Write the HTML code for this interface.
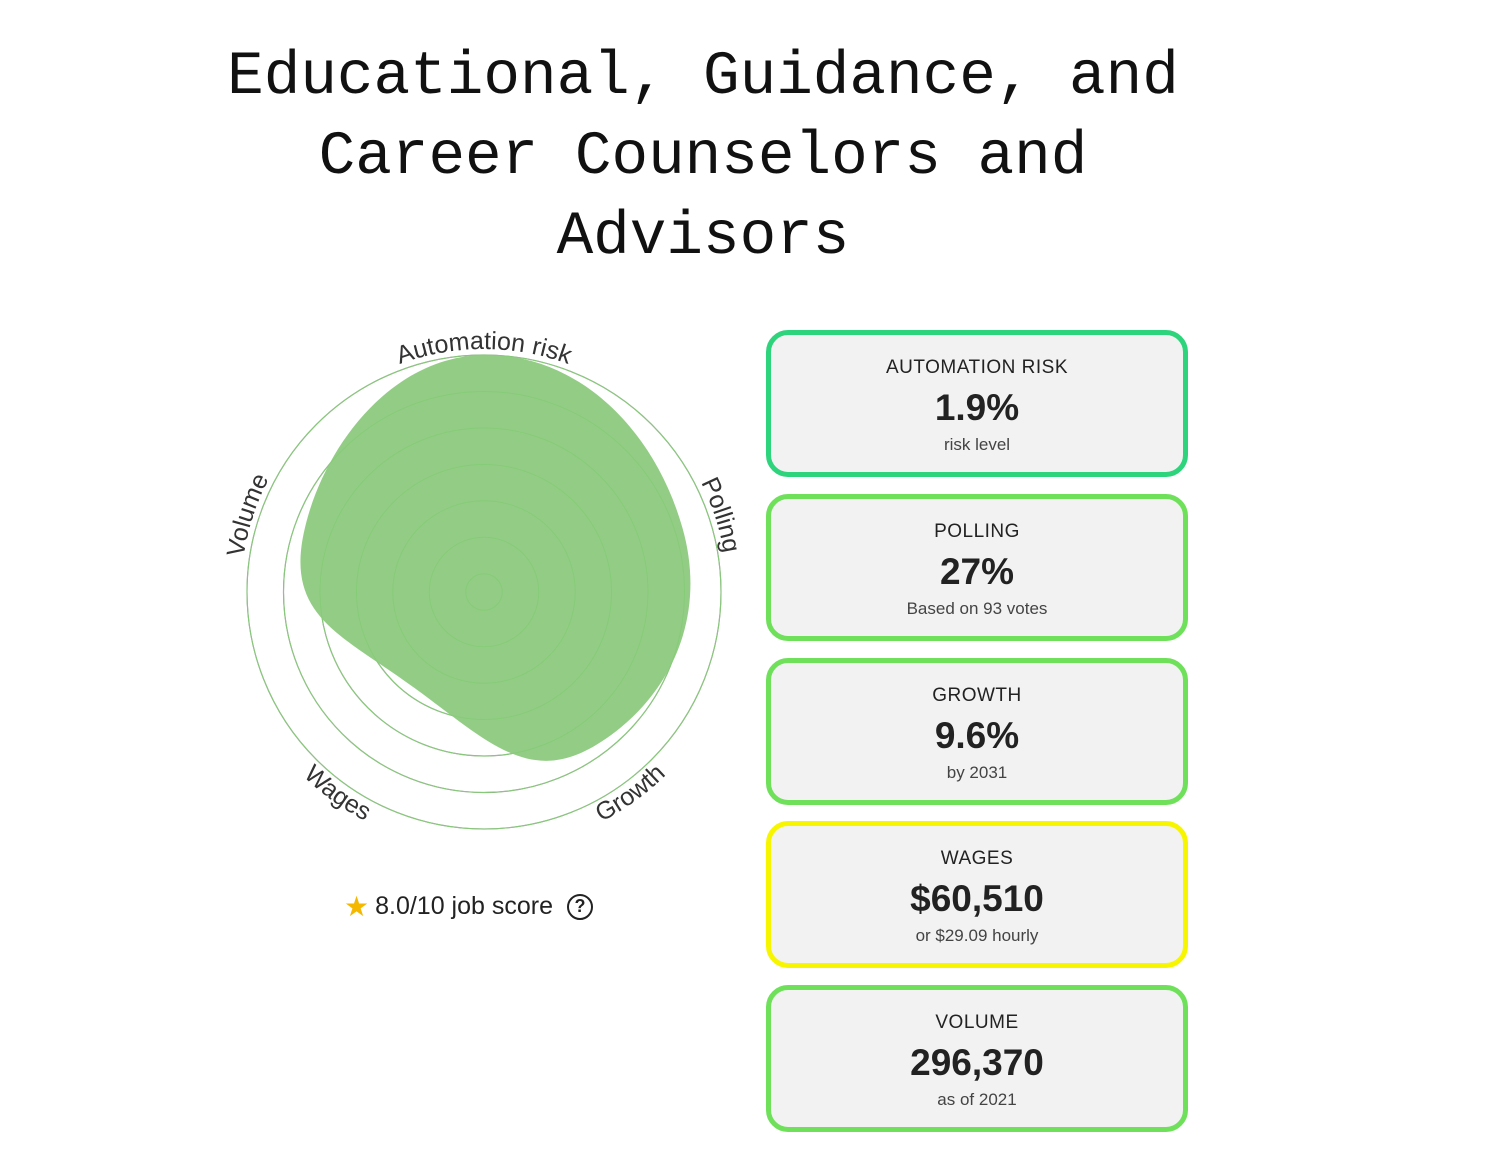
<!DOCTYPE html>
<html><head><meta charset="utf-8"><style>
body{margin:0;width:1500px;height:1159px;background:#fff;position:relative;overflow:hidden;font-family:"Liberation Sans",sans-serif}
.title{position:absolute;left:100px;width:1206px;top:38px;text-align:center;font-family:"Liberation Mono",monospace;font-size:61px;line-height:80px;color:#111;margin:0;font-weight:normal}
.card{position:absolute;left:766px;width:412px;height:137px;border:5px solid #6ee05a;border-radius:22px;background:#f2f2f2;text-align:center;color:#222}
.card .lab{position:absolute;top:22px;width:100%;font-size:19px;letter-spacing:0.5px}
.card .val{position:absolute;top:52px;width:100%;font-size:37px;font-weight:bold}
.card .sub{position:absolute;top:100px;width:100%;font-size:17px;color:#444}
.score{position:absolute;left:344px;top:890px;font-size:25px;color:#222;display:flex;align-items:center}
</style></head><body>
<h1 class="title">Educational, Guidance, and<br>Career Counselors and<br>Advisors</h1>
<svg id="radar" width="760" height="860" style="position:absolute;left:0;top:300px" viewBox="0 300 760 860">
<defs>
<path id="cw" d="M 727 592 A 243 243 0 1 1 241 592 A 243 243 0 1 1 727 592"/>
<path id="ccw" d="M 742 592 A 258 258 0 1 0 226 592 A 258 258 0 1 0 742 592"/>
</defs>
<g id="grid"></g>
<path id="shape" fill="#93cd85"/>
<g id="innergrid"></g>
<g font-family="Liberation Sans, sans-serif" font-size="25" fill="#333" id="labels"></g>
</svg>
<div class="score"><span style="color:#f5b800;font-size:28px;margin-right:6px">★</span>8.0/10 job score<span style="margin-left:14px;width:22px;height:22px;border:2.5px solid #222;border-radius:50%;display:inline-flex;align-items:center;justify-content:center;font-size:18px;font-weight:bold">?</span></div>
<div class="card" style="top:330px;border-color:#2dd47b"><div class="lab">AUTOMATION RISK</div><div class="val">1.9%</div><div class="sub">risk level</div></div>
<div class="card" style="top:494px"><div class="lab">POLLING</div><div class="val">27%</div><div class="sub">Based on 93 votes</div></div>
<div class="card" style="top:658px"><div class="lab">GROWTH</div><div class="val">9.6%</div><div class="sub">by 2031</div></div>
<div class="card" style="top:821px;border-color:#f7f500"><div class="lab">WAGES</div><div class="val">$60,510</div><div class="sub">or $29.09 hourly</div></div>
<div class="card" style="top:985px"><div class="lab">VOLUME</div><div class="val">296,370</div><div class="sub">as of 2021</div></div>
<script>
const categories=["Automation risk","Polling","Growth","Wages","Volume"];
const values=[1.0,0.88,0.8,0.5,0.8];
const gridLevels=[1.0,0.846,0.692,0.538,0.385,0.231,0.077];
const cx=484,cy=592,R=237,NS="http://www.w3.org/2000/svg";
function ang(i){return -Math.PI/2+i*2*Math.PI/categories.length;}
function rScale(v){return v*R;}
const grid=document.getElementById('grid'),inner=document.getElementById('innergrid');
gridLevels.forEach((g,i)=>{
 const c=document.createElementNS(NS,'circle');
 
 
 c.setAttribute('cx',cx);c.setAttribute('cy',cy);c.setAttribute('r',rScale(g));
 c.setAttribute('fill','none');c.setAttribute('stroke','#999');c.setAttribute('stroke-width','1.2');
 grid.appendChild(c);
 const c2=c.cloneNode();c2.setAttribute('stroke','#86cc78');c2.setAttribute('stroke-width','1');
 
 inner.appendChild(c2);
});
const pts=values.map((v,i)=>[cx+rScale(v)*Math.cos(ang(i)),cy+rScale(v)*Math.sin(ang(i))]);
const n=pts.length,t=0.75;let d='M'+pts[0][0]+','+pts[0][1];
for(let i=0;i<n;i++){const p0=pts[(i-1+n)%n],p1=pts[i],p2=pts[(i+1)%n],p3=pts[(i+2)%n];
 const c1=[p1[0]+(p2[0]-p0[0])*t/3,p1[1]+(p2[1]-p0[1])*t/3],c2=[p2[0]-(p3[0]-p1[0])*t/3,p2[1]-(p3[1]-p1[1])*t/3];
 d+=` C${c1[0]},${c1[1]} ${c2[0]},${c2[1]} ${p2[0]},${p2[1]}`;}
document.getElementById('shape').setAttribute('d',d+'Z');
const lg=document.getElementById('labels');
categories.forEach((c,i)=>{
 let deg=(ang(i)*180/Math.PI+360)%360;
 const bottom=deg>0&&deg<180;
 const tx=document.createElementNS(NS,'text');
 
 
 const tp=document.createElementNS(NS,'textPath');
 tp.setAttribute('href',bottom?'#ccw':'#cw');
 tp.setAttribute('startOffset',(bottom?(360-deg):deg)/360*100+'%');
 tp.setAttribute('text-anchor','middle');tp.textContent=c;
 tx.appendChild(tp);lg.appendChild(tx);
});
</script>
</body></html>
